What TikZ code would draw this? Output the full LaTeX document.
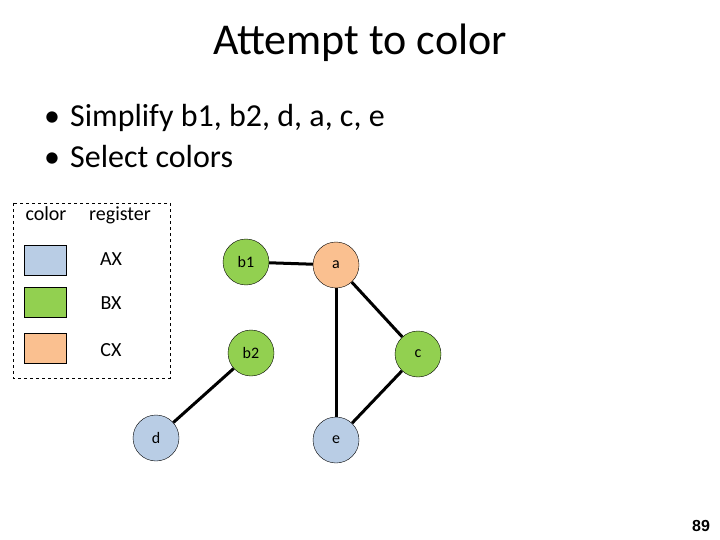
\documentclass[tikz,border=0pt]{standalone}
\usepackage{fontspec}
\setmainfont{Carlito}
\newfontfamily\numfont{Liberation Sans}
\usepackage{xcolor}
\usepackage{tikz}
\usetikzlibrary{positioning,calc}
\definecolor{rax}{HTML}{B9CDE5}
\definecolor{rbx}{HTML}{92D050}
\definecolor{rcx}{HTML}{FAC090}
\definecolor{edg}{HTML}{000000}

\begin{document}
\begin{tikzpicture}[x=1pt,y=-1pt,
    vtx/.style={circle, draw=black, thin, minimum size=46pt, inner sep=0pt, font=\fontsize{16}{18}\selectfont},
    swatch/.style={draw=black, thin, minimum width=42pt, minimum height=30pt, inner sep=0pt},
    reg/.style={anchor=base, font=\fontsize{20}{22}\selectfont},
    item/.style={anchor=base west, inner sep=0pt, font=\fontsize{32}{36}\selectfont},
    edge/.style={draw=edg, line width=3pt}]
  \useasboundingbox (0,0) rectangle (720,540);
  % title and bullets
  \node[anchor=base] (title) at (360,55) {\fontsize{44}{50}\selectfont Attempt to color};
  \node[item] (dot1) at (44,127) {\textbullet};
  \node[item] (it1) at (70,127) {Simplify b1, b2, d, a, c, e};
  \node[item] (dot2) at (44,168) {\textbullet};
  \node[item] (it2) at (70,168) {Select colors};
  % legend
  \draw[dashed, thin] (13,203) rectangle (170,378);
  \node[reg] (hcol) at (46,221) {color};
  \node[reg] (hreg) at (120,221) {register};
  \node[swatch, fill=rax] (sax) at (45,260) {};
  \node[swatch, fill=rbx] (sbx) at (45,302) {};
  \node[swatch, fill=rcx] (scx) at (45,348) {};
  \node[reg] (lax) at (111,265) {AX};
  \node[reg] (lbx) at (111,309) {BX};
  \node[reg] (lcx) at (111,356) {CX};
  % interference graph
  \node[vtx, fill=rbx] (b1) at (246,262) {b1};
  \node[vtx, fill=rcx] (a)  at (336,265) {a};
  \node[vtx, fill=rbx] (b2) at (251,353) {b2};
  \node[vtx, fill=rbx] (c)  at (418,354) {c};
  \node[vtx, fill=rax] (d)  at (156,438) {d};
  \node[vtx, fill=rax] (e)  at (336,440) {e};
  \draw[edge] (b1) -- (a);
  \draw[edge] (a) -- (e);
  \draw[edge] (a) -- (c);
  \draw[edge] (c) -- (e);
  \draw[edge] (b2) -- (d);
  % slide number
  \node (pgno) at (701,526) {\numfont\bfseries\fontsize{16}{18}\selectfont 89};
\end{tikzpicture}
\end{document}
